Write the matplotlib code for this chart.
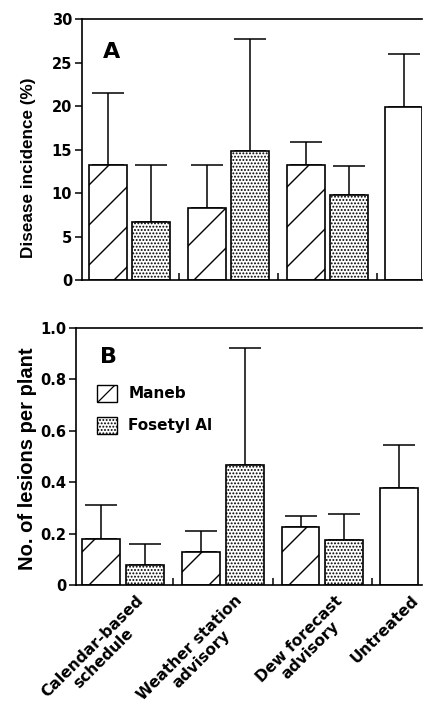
import numpy as np
import matplotlib
matplotlib.use('Agg')
import matplotlib.pyplot as plt
from matplotlib.lines import Line2D
from matplotlib.patches import Patch
from matplotlib.transforms import IdentityTransform, ScaledTranslation, blended_transform_factory

# ========================== DATA ==========================
CATEGORIES = ['Calendar-based\nschedule', 'Weather station\nadvisory',
              'Dew forecast\nadvisory', 'Untreated']

# Panel A: disease incidence (%), bar means and upper error (SE)
A_MANEB = [13.3, 8.3, 13.2]
A_MANEB_ERR = [8.2, 4.9, 2.7]
A_FOSETYL = [6.7, 14.9, 9.8]
A_FOSETYL_ERR = [6.6, 12.9, 3.3]
A_UNTREATED = 19.9
A_UNTREATED_ERR = 6.1

# Panel B: number of lesions per plant
B_MANEB = [0.18, 0.13, 0.227]
B_MANEB_ERR = [0.13, 0.08, 0.04]
B_FOSETYL = [0.078, 0.468, 0.175]
B_FOSETYL_ERR = [0.082, 0.453, 0.10]
B_UNTREATED = 0.376
B_UNTREATED_ERR = 0.17

A_YTICKS = [0, 5, 10, 15, 20, 25, 30]
B_YTICKS = [0, 0.2, 0.4, 0.6, 0.8, 1.0]
B_YTICKLABELS = ['0', '0.2', '0.4', '0.6', '0.8', '1.0']

# ========================== STYLE ==========================
WIDE_FONT = ['DejaVu Sans']
LABEL_FONT = ['Liberation Sans', 'DejaVu Sans']
BAR_WIDTH = 0.38
EDGE_LW = 1.2
HATCH_SPACING = 40   # pixels between the Maneb diagonals
plt.rcParams['font.family'] = WIDE_FONT
plt.rcParams['font.weight'] = 'bold'
plt.rcParams['axes.labelweight'] = 'bold'
plt.rcParams['hatch.linewidth'] = 0.9

fig = plt.figure(figsize=(4.23, 7.14), dpi=100)
ax_a = fig.add_axes([82 / 423, 1 - 280 / 714, 340 / 423, 260.5 / 714])
ax_b = fig.add_axes([76 / 423, 1 - 585 / 714, 346 / 423, 257 / 714])

groups = np.arange(3)
x_maneb = groups + 0.28
x_fos = groups + 0.72
x_untreated = 3.27


def draw_panel(ax, maneb, maneb_err, fos, fos_err, untr, untr_err):
    b1 = ax.bar(x_maneb, maneb, BAR_WIDTH, facecolor='white', edgecolor='black',
                linewidth=EDGE_LW, zorder=2)
    ax.bar(x_fos, fos, BAR_WIDTH, facecolor='white', edgecolor='black',
           linewidth=EDGE_LW, hatch='.....', zorder=2)
    ax.bar([x_untreated], [untr], BAR_WIDTH, facecolor='white', edgecolor='black',
           linewidth=EDGE_LW, zorder=2)
    xs = list(x_maneb) + list(x_fos) + [x_untreated]
    ys = list(maneb) + list(fos) + [untr]
    es = list(maneb_err) + list(fos_err) + [untr_err]
    ax.errorbar(xs, ys, yerr=[np.zeros(len(es)), es], fmt='none', ecolor='black',
                elinewidth=1.1, capsize=11.5, capthick=1.1, zorder=1)
    ax.set_xticks([1, 2, 3], minor=True)
    ax.set_xticks([])
    ax.tick_params(axis='x', which='minor', direction='in', length=5, width=1.1)
    ax.tick_params(axis='y', direction='out', length=5, width=1.1, labelsize=10.5, pad=2)
    ax.spines['right'].set_visible(False)
    for s in ['left', 'top', 'bottom']:
        ax.spines[s].set_linewidth(1.2)
    return b1


def add_diagonals(bars):
    # sparse "/" hatch drawn as clipped lines
    for bar in bars:
        x0, y0, x1, y1 = bar.get_window_extent().extents
        start = np.floor((y0 - x1) / HATCH_SPACING) * HATCH_SPACING
        for c in np.arange(start, y1 - x0 + HATCH_SPACING, HATCH_SPACING):
            ln = Line2D([x0 - 5, x1 + 5], [x0 - 5 + c, x1 + 5 + c], transform=IdentityTransform(),
                        color='black', linewidth=1.0)
            ln.set_clip_path(bar)
            fig.add_artist(ln)


bars_a = draw_panel(ax_a, A_MANEB, A_MANEB_ERR, A_FOSETYL, A_FOSETYL_ERR, A_UNTREATED, A_UNTREATED_ERR)
ax_a.set_xlim(0.02, 3.455)
ax_a.set_ylim(0, 30)
ax_a.set_yticks(A_YTICKS)
ax_a.set_ylabel('Disease incidence (%)', fontsize=12.3, family=LABEL_FONT)
ax_a.yaxis.set_label_coords(-0.135, 0.432)
ax_a.text(0.062, 0.915, 'A', transform=ax_a.transAxes, fontsize=16, ha='left', va='top')

bars_b = draw_panel(ax_b, B_MANEB, B_MANEB_ERR, B_FOSETYL, B_FOSETYL_ERR, B_UNTREATED, B_UNTREATED_ERR)
ax_b.set_xlim(0.025, 3.50)
ax_b.set_ylim(0, 1.0)
ax_b.set_yticks(B_YTICKS)
ax_b.set_yticklabels(B_YTICKLABELS)
ax_b.set_ylabel('No. of lesions per plant', fontsize=14.5, family=LABEL_FONT)
ax_b.yaxis.set_label_coords(-0.112, 0.492)
ax_b.text(0.069, 0.927, 'B', transform=ax_b.transAxes, fontsize=16, ha='left', va='top')

add_diagonals(bars_a)
add_diagonals(bars_b)

# legend
handles = [Patch(facecolor='white', edgecolor='black', hatch='/', linewidth=1.0, label='Maneb'),
           Patch(facecolor='white', edgecolor='black', hatch='.....', linewidth=1.0, label='Fosetyl Al')]
ax_b.legend(handles=handles, loc='upper left', bbox_to_anchor=(0.061, 0.778), frameon=False,
            fontsize=11, handlelength=1.3, handleheight=1.3, labelspacing=1.0,
            handletextpad=0.75, borderpad=0, borderaxespad=0)

# category labels under panel B
label_x = [0.5, 1.5, 2.5, x_untreated]
trans = blended_transform_factory(ax_b.transData, ax_b.transAxes) + \
    ScaledTranslation(12 / 100, -8 / 100, fig.dpi_scale_trans)
for x, name in zip(label_x, CATEGORIES):
    ax_b.text(x, 0, name, transform=trans, rotation=45, rotation_mode='anchor',
              ha='right', va='top', multialignment='center', fontsize=11.2, linespacing=1.1)

fig.savefig('out.png', dpi=100)
